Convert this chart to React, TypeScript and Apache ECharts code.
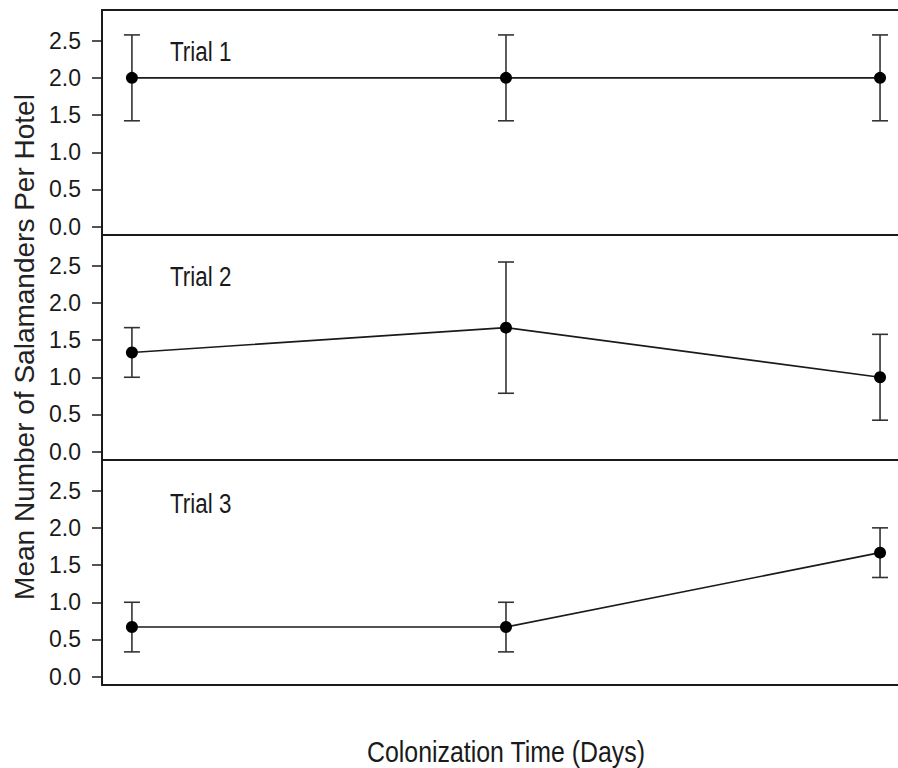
import React, { useEffect, useRef } from "react";
import * as echarts from "echarts";

const days = [1, 2, 3];
const trial1Mean = [2.0, 2.0, 2.0];
const trial1Lower = [1.423, 1.423, 1.423];
const trial1Upper = [2.577, 2.577, 2.577];
const trial2Mean = [1.333, 1.667, 1.0];
const trial2Lower = [1.0, 0.785, 0.423];
const trial2Upper = [1.667, 2.549, 1.577];
const trial3Mean = [0.667, 0.667, 1.667];
const trial3Lower = [0.333, 0.333, 1.333];
const trial3Upper = [1.0, 1.0, 2.0];
const yTicks = [0, 0.5, 1.0, 1.5, 2.0, 2.5];
const trialLabels = ["Trial 1", "Trial 2", "Trial 3"];
const yTitle = "Mean Number of Salamanders Per Hotel";
const xTitle = "Colonization Time (Days)";

const trials = [
  { mean: trial1Mean, lower: trial1Lower, upper: trial1Upper },
  { mean: trial2Mean, lower: trial2Lower, upper: trial2Upper },
  { mean: trial3Mean, lower: trial3Lower, upper: trial3Upper },
];

const INK = "#1a1a1a";
const FONT = "'Liberation Sans', Arial, Helvetica, sans-serif";

export default function App() {
  const ref = useRef<HTMLDivElement>(null);
  useEffect(() => {
    if (!ref.current) return;
    const chart = echarts.init(ref.current, undefined, { renderer: "svg" });
    const panelTops = [10, 235, 460];
    const panelH = 225;
    const grids = panelTops.map((t) => ({
      left: 102,
      right: 0,
      top: t,
      height: panelH,
      show: false,
    }));
    const xAxes: any[] = [];
    panelTops.forEach((_, i) => {
      ["bottom", "top"].forEach((pos) => {
        xAxes.push({
          type: "value",
          gridIndex: i,
          position: pos,
          min: 0.92,
          max: 3.048,
          axisLine: { show: true, onZero: false, lineStyle: { color: INK, width: 2 } },
          axisTick: { show: false },
          axisLabel: { show: false },
          splitLine: { show: false },
        });
      });
    });
    const yAxes = panelTops.map((_, i) => ({
      type: "value",
      gridIndex: i,
      min: -0.112,
      max: 2.912,
      axisLine: { show: true, onZero: false, lineStyle: { color: INK, width: 2 } },
      splitLine: { show: false },
      axisTick: {
        show: true,
        length: 10,
        customValues: yTicks,
        lineStyle: { color: INK, width: 1.5 },
      },
      axisLabel: {
        show: true,
        customValues: yTicks,
        margin: 21,
        fontSize: 23,
        color: INK,
        fontFamily: FONT,
        formatter: (v: number) => v.toFixed(1),
      },
    }));
    const series: any[] = [];
    trials.forEach((tr, i) => {
      const errData = days.map((d, k) => [d, tr.lower[k], tr.upper[k]]);
      series.push({
        type: "custom",
        xAxisIndex: i * 2,
        yAxisIndex: i,
        z: 2,
        data: errData,
        renderItem: (params: any, api: any) => {
          const x = api.value(0);
          const lo = api.coord([x, api.value(1)]);
          const hi = api.coord([x, api.value(2)]);
          const cap = 8;
          const style = { stroke: "#333", lineWidth: 1.6 };
          return {
            type: "group",
            children: [
              { type: "line", shape: { x1: lo[0], y1: lo[1], x2: hi[0], y2: hi[1] }, style },
              { type: "line", shape: { x1: lo[0] - cap, y1: lo[1], x2: lo[0] + cap, y2: lo[1] }, style },
              { type: "line", shape: { x1: hi[0] - cap, y1: hi[1], x2: hi[0] + cap, y2: hi[1] }, style },
            ],
          };
        },
      });
      series.push({
        type: "line",
        xAxisIndex: i * 2,
        yAxisIndex: i,
        z: 3,
        data: days.map((d, k) => [d, tr.mean[k]]),
        symbol: "circle",
        symbolSize: 12,
        itemStyle: { color: "#000" },
        lineStyle: { color: INK, width: 1.6 },
        emphasis: { disabled: true },
      });
    });
    const labelCenters = [51, 276, 503];
    const graphic: any[] = trialLabels.map((t, i) => ({
      type: "text",
      x: 170,
      y: labelCenters[i],
      scaleX: 0.8,
      style: {
        text: t,
        font: `28px ${FONT}`,
        fill: INK,
        textAlign: "left",
        textVerticalAlign: "middle",
      },
    }));
    graphic.push({
      type: "text",
      x: 24,
      y: 347,
      rotation: Math.PI / 2,
      style: {
        text: yTitle,
        font: `28px ${FONT}`,
        fill: "#222",
        textAlign: "center",
        textVerticalAlign: "middle",
      },
    });
    graphic.push({
      type: "text",
      x: 506,
      y: 752,
      scaleX: 0.83,
      style: {
        text: xTitle,
        font: `30px ${FONT}`,
        fill: INK,
        textAlign: "center",
        textVerticalAlign: "middle",
      },
    });
    chart.setOption({
      animation: false,
      backgroundColor: "#fff",
      grid: grids,
      xAxis: xAxes,
      yAxis: yAxes,
      series,
      graphic,
    });
    return () => chart.dispose();
  }, []);
  return (
    <div
      ref={ref}
      style={{ position: "absolute", left: 0, top: 0, width: 898, height: 768 }}
    />
  );
}
